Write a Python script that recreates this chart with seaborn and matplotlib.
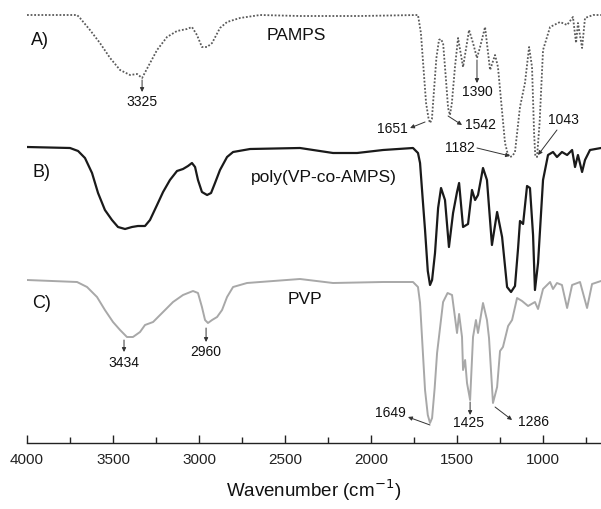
import matplotlib
matplotlib.use("Agg")
import matplotlib.pyplot as plt
import seaborn as sns
import pandas as pd

# ---- data: wavenumber (cm-1) and offset transmittance (a.u.) ----
wn_A = [4000, 3709, 3692, 3634, 3576, 3517, 3459, 3401, 3360, 3331, 3297, 3244, 3186, 3128, 3070,
        3041, 3012, 2983, 2953, 2924, 2878, 2837, 2762, 2645, 2413, 2064, 1727, 1710, 1695, 1680,
        1666, 1657, 1646, 1635, 1620, 1605, 1595, 1581, 1565, 1552, 1541, 1530, 1512, 1494, 1465,
        1430, 1407, 1384, 1366, 1337, 1308, 1279, 1262, 1240, 1221, 1205, 1192, 1178, 1163, 1134,
        1105, 1081, 1064, 1052, 1045, 1035, 1020, 1000, 959, 901, 860, 826, 808, 797, 773, 756,
        709, 663]
t_A = [428, 428, 425, 413, 400, 385, 373, 368, 369, 365, 376, 393, 406, 412, 414,
       416, 408, 396, 396, 400, 415, 421, 425, 428, 427, 427, 428, 410, 375, 340,
       325, 320, 324, 350, 385, 403, 404, 400, 365, 335, 328, 340, 376, 405, 376,
       413, 400, 385, 396, 416, 373, 388, 376, 335, 300, 289, 286, 287, 291, 336,
       360, 396, 376, 310, 287, 286, 320, 393, 416, 421, 418, 426, 400, 420, 395, 425,
       428, 428]

wn_B = [4000, 3750, 3703, 3663, 3622, 3587, 3547, 3506, 3471, 3430, 3390, 3355, 3314, 3285,
        3244, 3209, 3169, 3128, 3093, 3064, 3041, 3023, 3006, 2983, 2953, 2930, 2907, 2878,
        2837, 2802, 2703, 2413, 2221, 2081, 1930, 1756, 1727, 1715, 1700, 1686, 1670, 1657,
        1645, 1628, 1610, 1593, 1570, 1547, 1523, 1500, 1488, 1465, 1436, 1413, 1395, 1378,
        1349, 1326, 1297, 1267, 1238, 1220, 1209, 1186, 1163, 1145, 1134, 1116, 1093, 1076,
        1058, 1047, 1029, 1000, 971, 942, 919, 890, 860, 831, 814, 797, 773, 756, 727, 663]
t_B = [296, 295, 292, 285, 270, 250, 233, 223, 216, 214, 216, 217, 217, 223,
       238, 251, 263, 272, 274, 277, 280, 276, 263, 251, 248, 250, 260, 273,
       286, 291, 294, 295, 290, 290, 293, 295, 290, 280, 245, 213, 172, 158,
       163, 190, 235, 255, 243, 196, 230, 251, 260, 216, 219, 253, 243, 248,
       275, 263, 198, 231, 206, 175, 156, 151, 157, 195, 222, 219, 257, 255,
       208, 153, 180, 263, 288, 291, 286, 291, 288, 293, 276, 288, 271, 283, 293, 295]

wn_C = [4000, 3709, 3651, 3593, 3547, 3500, 3459, 3419, 3384, 3343, 3314, 3267, 3209, 3151,
        3093, 3035, 3006, 2983, 2965, 2948, 2924, 2895, 2866, 2837, 2802, 2721, 2645, 2413,
        2221, 1930, 1756, 1727, 1715, 1700, 1686, 1670, 1657, 1645, 1630, 1616, 1581, 1555,
        1529, 1500, 1488, 1471, 1465, 1453, 1442, 1424, 1407, 1390, 1378, 1349, 1326, 1314,
        1291, 1267, 1250, 1233, 1203, 1180, 1151, 1122, 1087, 1047, 1029, 1000, 959, 942,
        919, 890, 860, 831, 785, 744, 715, 663]
t_C = [163, 161, 156, 146, 133, 121, 113, 106, 106, 111, 118, 121, 131, 141,
       148, 152, 150, 136, 123, 120, 123, 126, 133, 146, 156, 160, 161, 164,
       160, 161, 161, 156, 140, 95, 53, 28, 20, 25, 55, 90, 141, 150,
       148, 110, 129, 106, 73, 83, 60, 43, 106, 123, 110, 140, 123, 105,
       40, 56, 92, 96, 117, 123, 145, 142, 137, 141, 134, 154, 161, 154,
       160, 158, 135, 158, 161, 135, 159, 162]

panel_labels = ["A)", "B)", "C)"]
sample_names = ["PAMPS", "poly(VP-co-AMPS)", "PVP"]
xticks = [4000, 3500, 3000, 2500, 2000, 1500, 1000]

# peak annotations: label, text (wn, T), arrow tail (wn, T), arrow head (wn, T)
peaks = [
    ("3325", (3331, 341), (3331, 363), (3331, 351)),
    ("1390", (1384, 351), (1384, 383), (1384, 360)),
    ("1651", (1878, 314), (1686, 321), (1773, 315)),
    ("1542", (1366, 318), (1552, 327), (1471, 318)),
    ("1182", (1483, 295), (1384, 295), (1192, 287)),
    ("1043", (884, 323), (919, 313), (1029, 288)),
    ("3434", (3436, 80), (3436, 103), (3436, 91)),
    ("2960", (2959, 91), (2959, 115), (2959, 101)),
    ("1649", (1890, 30), (1657, 18), (1785, 26)),
    ("1425", (1436, 20), (1424, 41), (1424, 28)),
    ("1286", (1058, 21), (1279, 36), (1180, 23)),
]

sns.set_style("white")
plt.rcParams["font.family"] = ["Liberation Sans", "DejaVu Sans"]

fig = plt.figure(figsize=(6.01, 5.09), dpi=100)
ax = fig.add_axes([27 / 601, 66 / 509, 574 / 601, 443 / 509])

dfA = pd.DataFrame({"wn": wn_A, "t": t_A})
dfB = pd.DataFrame({"wn": wn_B, "t": t_B})
dfC = pd.DataFrame({"wn": wn_C, "t": t_C})

sns.lineplot(data=dfA, x="wn", y="t", sort=False, estimator=None, ax=ax,
             color="#5a5a5a", linestyle=(0, (1, 1)), linewidth=1.3)
sns.lineplot(data=dfB, x="wn", y="t", sort=False, estimator=None, ax=ax,
             color="#1a1a1a", linewidth=1.6)
sns.lineplot(data=dfC, x="wn", y="t", sort=False, estimator=None, ax=ax,
             color="#a8a8a8", linewidth=1.4)
for ln in ax.get_lines():
    ln.set_solid_joinstyle("round")
    ln.set_dash_joinstyle("round")

ax.set_xlim(4000, 663)
ax.set_ylim(0, 443)

# panel letters and sample names
for lab, (x, y) in zip(panel_labels, [(3924, 403), (3913, 271), (3913, 140)]):
    ax.text(x, y, lab, fontsize=13, ha="center", va="center", color="#111111")
for name, (x, y) in zip(sample_names, [(2436, 408), (2273, 266), (2384, 144)]):
    ax.text(x, y, name, fontsize=12.5, ha="center", va="center", color="#111111")

for lab, txt, tail, head in peaks:
    ax.text(txt[0], txt[1], lab, fontsize=10, ha="center", va="center", color="#111111")
    ax.annotate("", xy=head, xytext=tail,
                arrowprops=dict(arrowstyle="-|>", color="#333333", lw=0.7,
                                mutation_scale=6, shrinkA=0, shrinkB=0))

# axes styling
for s in ["top", "left", "right"]:
    ax.spines[s].set_visible(False)
ax.spines["bottom"].set_color("#222222")
ax.spines["bottom"].set_linewidth(1.0)
ax.set_yticks([])
ax.set_xticks(xticks)
ax.set_xticklabels([str(v) for v in xticks], fontsize=11)
ax.set_xticks([3750, 3250, 2750, 2250, 1750, 1250, 750], minor=True)
ax.tick_params(axis="x", which="major", direction="in", length=6, width=1, pad=7,
               colors="#222222", bottom=True)
ax.tick_params(axis="x", which="minor", direction="in", length=4, width=1,
               colors="#222222", bottom=True)
ax.set_ylabel("")
ax.set_xlabel("Wavenumber (cm$^{-1}$)", fontsize=13.5, labelpad=8, color="#111111")

fig.savefig("out.png", dpi=100)
